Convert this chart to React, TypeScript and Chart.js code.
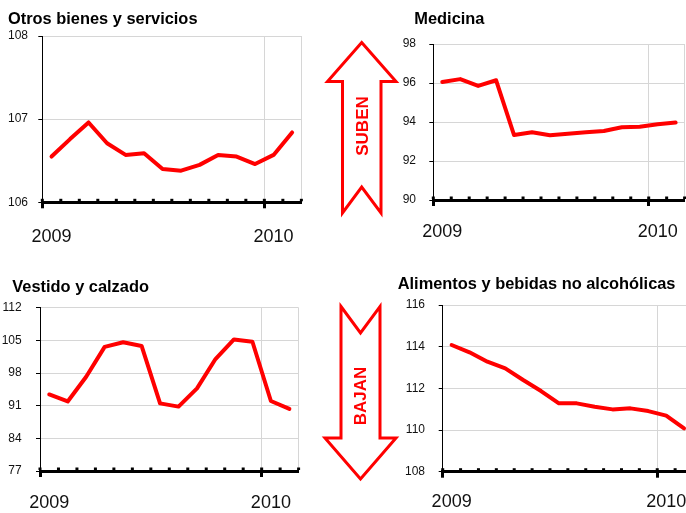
import React, { useEffect, useRef } from 'react';
import { Chart, registerables } from 'chart.js';

Chart.register(...registerables);

// ---- data ----
const categories = [
  'Ene 2009', 'Feb 2009', 'Mar 2009', 'Abr 2009', 'May 2009', 'Jun 2009', 'Jul 2009',
  'Ago 2009', 'Sep 2009', 'Oct 2009', 'Nov 2009', 'Dic 2009', 'Ene 2010', 'Feb 2010',
];
const xTickLabels = ['2009', '', '', '', '', '', '', '', '', '', '', '', '2010', ''];

const otrosValues = [106.55, 106.76, 106.96, 106.71, 106.57, 106.59, 106.40, 106.38, 106.45, 106.57, 106.55, 106.46, 106.57, 106.84];
const medicinaValues = [96.05, 96.2, 95.85, 96.14, 93.33, 93.47, 93.32, 93.4, 93.47, 93.54, 93.73, 93.76, 93.88, 93.97];
const vestidoValues = [93.4, 91.9, 97.2, 103.6, 104.6, 103.8, 91.5, 90.8, 94.7, 101, 105.2, 104.7, 92, 90.3];
const alimentosValues = [114.08, 113.73, 113.28, 112.96, 112.4, 111.87, 111.28, 111.28, 111.12, 110.99, 111.04, 110.91, 110.69, 110.08];

const FONT = "'Liberation Sans', Arial, Helvetica, sans-serif";
const GRID = '#d6d6d6';
const RED = '#ff0000';

type Geom = {
  left: number; top: number; width: number; height: number;
  padT: number; padR: number; yw: number; xh: number;
  ylp: number; xlp: number; titleX: number; titleY: number;
};

type Props = {
  title: string; values: number[]; yMin: number; yMax: number; yStep: number; geom: Geom;
};

function MiniChart({ title, values, yMin, yMax, yStep, geom }: Props) {
  const ref = useRef<HTMLCanvasElement>(null);
  useEffect(() => {
    if (!ref.current) return;
    const n = categories.length;
    const dotsPlugin = {
      id: 'axisDots',
      afterDraw(chart: any) {
        const { ctx, chartArea: a } = chart;
        const xs = chart.scales.x;
        const step = xs.getPixelForValue(1) - xs.getPixelForValue(0);
        ctx.save();
        ctx.fillStyle = '#000';
        for (let i = 0; i <= n; i++) {
          const x = xs.getPixelForValue(0) - step / 2 + step * i;
          ctx.fillRect(x - 1.5, a.bottom - 3.5, 3, 2.5);
        }
        ctx.restore();
      },
    };
    const chart = new Chart(ref.current, {
      type: 'line',
      data: {
        labels: categories,
        datasets: [{
          label: title,
          data: values,
          borderColor: RED,
          borderWidth: 4,
          pointRadius: 0,
          tension: 0,
          borderJoinStyle: 'round',
          borderCapStyle: 'round',
          fill: false,
        }],
      },
      options: {
        animation: false,
        responsive: false,
        devicePixelRatio: 1,
        layout: { padding: { left: 0, right: geom.padR, top: geom.padT, bottom: 0 } },
        plugins: {
          legend: { display: false },
          tooltip: { enabled: false },
          title: { display: false },
        },
        scales: {
          x: {
            type: 'category',
            offset: true,
            grid: {
              offset: true,
              color: (ctx: any) => (ctx.type === 'scale' || ctx.index === 12 ? GRID : 'rgba(0,0,0,0)'),
              lineWidth: 1,
              drawTicks: true,
              tickLength: 6,
              tickWidth: 3,
              tickColor: (ctx: any) => (ctx.type !== 'scale' && (ctx.index === 0 || ctx.index === 12) ? '#000' : 'rgba(0,0,0,0)'),
            },
            border: { display: true, color: '#000', width: 3 },
            ticks: {
              autoSkip: false,
              maxRotation: 0,
              minRotation: 0,
              padding: geom.xlp,
              color: '#111',
              font: { family: FONT, size: 18 },
              callback: (_v: any, i: number) => xTickLabels[i],
            },
            afterFit: (s: any) => { s.height = geom.xh; },
          },
          y: {
            min: yMin,
            max: yMax,
            ticks: { stepSize: yStep, padding: geom.ylp, color: '#111', font: { family: FONT, size: 12 } },
            grid: { color: GRID, tickColor: '#000', tickLength: 4 },
            border: { display: true, color: '#000', width: 1 },
            afterFit: (s: any) => { s.width = geom.yw; },
          },
        },
      },
      plugins: [dotsPlugin],
    } as any);
    return () => chart.destroy();
  }, []);
  return (
    <>
      <canvas
        ref={ref}
        width={geom.width}
        height={geom.height}
        style={{ position: 'absolute', left: geom.left, top: geom.top, width: geom.width, height: geom.height }}
      />
      <div
        style={{
          position: 'absolute', left: geom.titleX, top: geom.titleY, whiteSpace: 'nowrap',
          fontFamily: FONT, fontWeight: 'bold', fontSize: 16.4, lineHeight: '19.2px', color: '#000',
        }}
      >{title}</div>
    </>
  );
}

const g1: Geom = { left: 0, top: 0, width: 310, height: 255, padT: 36, padR: 8, yw: 42.3, xh: 52.7, ylp: 10.3, xlp: 17.6, titleX: 8, titleY: 8.9 };
const g2: Geom = { left: 395, top: 0, width: 300, height: 255, padT: 44, padR: 10.4, yw: 38.3, xh: 55, ylp: 13.3, xlp: 15, titleX: 414.3, titleY: 8.9 };
const g3: Geom = { left: 0, top: 260, width: 310, height: 253, padT: 47.7, padR: 11.4, yw: 40, xh: 42, ylp: 14.3, xlp: 15.6, titleX: 12.3, titleY: 277.3 };
const g4: Geom = { left: 395, top: 260, width: 310, height: 253, padT: 45, padR: 12, yw: 47.7, xh: 41.3, ylp: 13.7, xlp: 13.2, titleX: 397.7, titleY: 274.4 };

function Arrows() {
  return (
    <svg width={686} height={513} style={{ position: 'absolute', left: 0, top: 0, pointerEvents: 'none' }}>
      <polygon
        points="361.7,42.5 396,81.5 381,81.5 381,213 361.7,187 342.5,213 342.5,81.5 327.5,81.5"
        fill="#fff" stroke={RED} strokeWidth={3} strokeLinejoin="miter"
      />
      <text
        x={0} y={0} transform="translate(362.5,126) rotate(-90)"
        textAnchor="middle" dominantBaseline="central"
        fill={RED} fontFamily={FONT} fontWeight="bold" fontSize={17}
      >SUBEN</text>
      <polygon
        points="341,306.5 360.5,333 380,306.5 380,438 396,438 360.5,479 325,438 341,438"
        fill="#fff" stroke={RED} strokeWidth={3} strokeLinejoin="miter"
      />
      <text
        x={0} y={0} transform="translate(360.5,396) rotate(-90)"
        textAnchor="middle" dominantBaseline="central"
        fill={RED} fontFamily={FONT} fontWeight="bold" fontSize={17}
      >BAJAN</text>
    </svg>
  );
}

export default function App() {
  return (
    <div style={{ position: 'fixed', left: 0, top: 0, width: 686, height: 513, overflow: 'hidden', background: '#fff' }}>
      <MiniChart title="Otros bienes y servicios" values={otrosValues} yMin={106} yMax={108} yStep={1} geom={g1} />
      <MiniChart title="Medicina" values={medicinaValues} yMin={90} yMax={98} yStep={2} geom={g2} />
      <MiniChart title="Vestido y calzado" values={vestidoValues} yMin={77} yMax={112} yStep={7} geom={g3} />
      <MiniChart title="Alimentos y bebidas no alcohólicas" values={alimentosValues} yMin={108} yMax={116} yStep={2} geom={g4} />
      <Arrows />
    </div>
  );
}
